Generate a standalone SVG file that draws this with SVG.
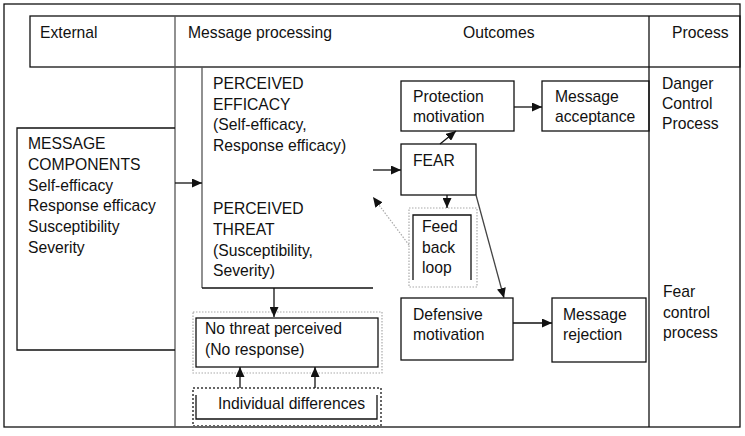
<svg xmlns="http://www.w3.org/2000/svg" width="745" height="436" viewBox="0 0 745 436">
<style>
  text { font-family: "Liberation Sans", Arial, sans-serif; font-size: 15.7px; fill: #111; }
  .ln { fill: none; stroke: #111; stroke-width: 1.3; }
  .gl { fill: none; stroke: #555; stroke-width: 1.3; }
  .dot { fill: none; stroke: #aaa; stroke-width: 1.2; stroke-dasharray: 1.5 1.5; }
  .dot2 { fill: none; stroke: #666; stroke-width: 2; stroke-dasharray: 2 2; }
  .arr { fill: none; stroke: #111; stroke-width: 1.3; marker-end: url(#ah); }
</style>
<defs>
  <marker id="ah" markerUnits="userSpaceOnUse" markerWidth="10" markerHeight="9" refX="10" refY="4.5" orient="auto">
    <path d="M0,0 L10,4.5 L0,9 z" fill="#111"/>
  </marker>
</defs>
<rect width="745" height="436" fill="#fff"/>

<g id="frame">
  <rect class="ln" x="4" y="4" width="736" height="423"/>
  <rect class="ln" x="30" y="16" width="710" height="51"/>
  <line class="gl" x1="175" y1="16" x2="175" y2="427"/>
  <line class="ln" x1="649" y1="16" x2="649" y2="427"/>
  <text x="40" y="38">External</text>
  <text x="188" y="38">Message processing</text>
  <text x="463" y="38">Outcomes</text>
  <text x="672" y="38">Process</text>
</g>

<g id="message-components">
  <path class="ln" d="M175,128 H17 V350 H175"/>
  <text x="28" y="149">MESSAGE</text>
  <text x="28" y="170">COMPONENTS</text>
  <text x="28" y="190.5">Self-efficacy</text>
  <text x="28" y="211">Response efficacy</text>
  <text x="28" y="232">Susceptibility</text>
  <text x="28" y="252.5">Severity</text>
</g>

<g id="perceived">
  <path class="gl" d="M202,67 V288"/>
  <path class="ln" d="M202,288 H373"/>
  <text x="213" y="89">PERCEIVED</text>
  <text x="213" y="109.5">EFFICACY</text>
  <text x="213" y="130">(Self-efficacy,</text>
  <text x="213" y="151">Response efficacy)</text>
  <text x="213" y="214">PERCEIVED</text>
  <text x="213" y="235">THREAT</text>
  <text x="213" y="255.5">(Susceptibility,</text>
  <text x="213" y="276">Severity)</text>
</g>

<g id="protection-motivation">
  <rect class="ln" x="401" y="81" width="113" height="50"/>
  <text x="413" y="102">Protection</text>
  <text x="413" y="122">motivation</text>
</g>

<g id="message-acceptance">
  <rect class="ln" x="542" y="81" width="107" height="50"/>
  <text x="555" y="102">Message</text>
  <text x="555" y="122">acceptance</text>
</g>

<g id="danger-control">
  <text x="662" y="89">Danger</text>
  <text x="662" y="109">Control</text>
  <text x="662" y="129">Process</text>
</g>

<g id="fear">
  <rect class="ln" x="401" y="144" width="75" height="51"/>
  <text x="413" y="166">FEAR</text>
</g>

<g id="feedback-loop">
  <rect class="dot" x="409" y="208" width="68" height="79"/>
  <path class="ln" d="M413,280 V215 H471 V280"/>
  <text x="422" y="232">Feed</text>
  <text x="422" y="253">back</text>
  <text x="422" y="273">loop</text>
</g>

<g id="defensive-motivation">
  <rect class="ln" x="401" y="298" width="112" height="62"/>
  <text x="413" y="320">Defensive</text>
  <text x="413" y="340">motivation</text>
</g>

<g id="message-rejection">
  <rect class="ln" x="552" y="298" width="94" height="64"/>
  <text x="563" y="320">Message</text>
  <text x="563" y="340">rejection</text>
</g>

<g id="fear-control">
  <text x="663" y="297">Fear</text>
  <text x="663" y="317.5">control</text>
  <text x="663" y="338">process</text>
</g>

<g id="no-threat">
  <rect class="dot" x="193" y="312" width="189" height="61"/>
  <rect class="ln" x="196" y="318" width="182" height="49"/>
  <text x="205" y="334">No threat perceived</text>
  <text x="205" y="355">(No response)</text>
</g>

<g id="individual-differences">
  <rect class="dot2" x="193" y="388" width="188" height="38"/>
  <path class="ln" d="M196,395 V419 H377 V395"/>
  <text x="218" y="409">Individual differences</text>
</g>

<g id="connectors">
  <path class="arr" d="M175,183 H202"/>
  <path class="arr" d="M373,170 H401"/>
  <path class="arr" d="M514,107 H542"/>
  <path class="arr" d="M440,144 L456,131"/>
  <path class="arr" d="M447,195 V208"/>
  <path d="M409,245 L373,197" fill="none" stroke="#aaa" stroke-width="1.2" stroke-dasharray="1.5 1.5" marker-end="url(#ah)"/>
  <path d="M476,195 L504,298" fill="none" stroke="#444" stroke-width="1.3" marker-end="url(#ah)"/>
  <path class="arr" d="M513,323 H552"/>
  <path class="arr" d="M274,288 V317"/>
  <path class="arr" d="M240,388 V367"/>
  <path class="arr" d="M315,388 V367"/>
</g>
</svg>
